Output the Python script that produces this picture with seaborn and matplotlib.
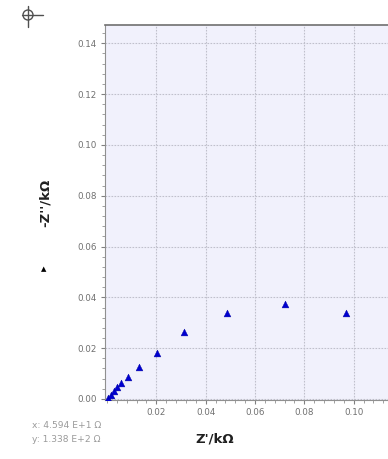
import numpy as np
import pandas as pd
import matplotlib
matplotlib.use("Agg")
import matplotlib.pyplot as plt
import seaborn as sns
from matplotlib.ticker import MultipleLocator, FixedLocator

z_real = [0.0004, 0.0016, 0.0028, 0.0040, 0.0056, 0.0084, 0.0128, 0.0204, 0.0312, 0.0488, 0.0720, 0.0968]
z_imag = [0.0004, 0.0016, 0.0030, 0.0047, 0.0063, 0.0086, 0.0126, 0.0181, 0.0263, 0.0338, 0.0373, 0.0338]
x_ticks = [0.02, 0.04, 0.06, 0.08, 0.10]
y_ticks = [0.00, 0.02, 0.04, 0.06, 0.08, 0.10, 0.12, 0.14]
x_tick_labels = ["0.02", "0.04", "0.06", "0.08", "0.10"]
y_tick_labels = ["0.00", "0.02", "0.04", "0.06", "0.08", "0.10", "0.12", "0.14"]

df = pd.DataFrame({"Zr": z_real, "Zi": z_imag})

sns.set_theme(style="white")
plt.rcParams['font.family'] = ['DejaVu Sans']

fig = plt.figure(figsize=(3.88, 4.59), dpi=100)
ax = fig.add_axes([105/388, 1-400/459, 1-105/388 + 0.01, 375/459])
ax.set_facecolor("#f1f1fc")

sns.scatterplot(data=df, x="Zr", y="Zi", marker="^", color="#0000d0", s=24,
                edgecolor="#0000a0", linewidth=0.3, ax=ax, zorder=3, legend=False)

ax.set_xlim(-0.0008, 0.1155)
ax.set_ylim(-0.0004, 0.1472)

ax.xaxis.set_major_locator(FixedLocator(x_ticks))
ax.set_xticklabels(x_tick_labels)
ax.yaxis.set_major_locator(FixedLocator(y_ticks))
ax.set_yticklabels(y_tick_labels)
ax.xaxis.set_minor_locator(MultipleLocator(0.004))
ax.yaxis.set_minor_locator(MultipleLocator(0.004))

ax.tick_params(axis="both", which="major", direction="out", length=3, width=0.8,
               color="#808080", labelsize=6.3, labelcolor="#707070", pad=3)
ax.tick_params(axis="both", which="minor", direction="out", length=2, width=0.6,
               color="#909090")
ax.tick_params(bottom=True, left=True, which="both")

ax.grid(True, which="major", color="#c0c0cc", linestyle=(0, (1.5, 1.2)), linewidth=0.8)

ax.spines["right"].set_visible(False)
ax.spines["top"].set_color("#707070")
ax.spines["top"].set_linewidth(1.2)
ax.spines["left"].set_color("#909090")
ax.spines["left"].set_linewidth(0.8)
ax.spines["bottom"].set_color("#909090")
ax.spines["bottom"].set_linewidth(0.8)

ax.set_xlabel("")
ax.set_ylabel("")

fig.text(215/388, 1-439/459, "Z'/k\u03a9", fontsize=9.5, fontweight="bold",
         color="#202020", ha="center", va="center")
fig.text(45/388, 1-203/459, "-Z''/k\u03a9", fontsize=9.5, fontweight="bold",
         color="#202020", ha="center", va="center", rotation=90)
fig.text(44/388, 1-269/459, "\u25b2", fontsize=5, color="#000000", ha="center", va="center")

fig.text(32/388, 1-426/459, "x: 4.594 E+1 \u03a9", fontsize=6.6, color="#9a9a9a",
         ha="left", va="center")
fig.text(32/388, 1-439/459, "y: 1.338 E+2 \u03a9", fontsize=6.6, color="#9a9a9a",
         ha="left", va="center")

# crosshair icon
cx, cy = 28/388, 1-15/459
circ = matplotlib.patches.Ellipse((cx, cy), 10/388, 10/459, transform=fig.transFigure,
                                  fill=False, edgecolor="#505050", linewidth=1.0)
fig.patches.append(circ)
fig.lines.append(matplotlib.lines.Line2D([22/388, 43/388], [cy, cy],
                 transform=fig.transFigure, color="#505050", linewidth=1.0))
fig.lines.append(matplotlib.lines.Line2D([cx, cx], [1-27/459, 1-6/459],
                 transform=fig.transFigure, color="#505050", linewidth=1.0))

fig.savefig("out.png", dpi=100)
